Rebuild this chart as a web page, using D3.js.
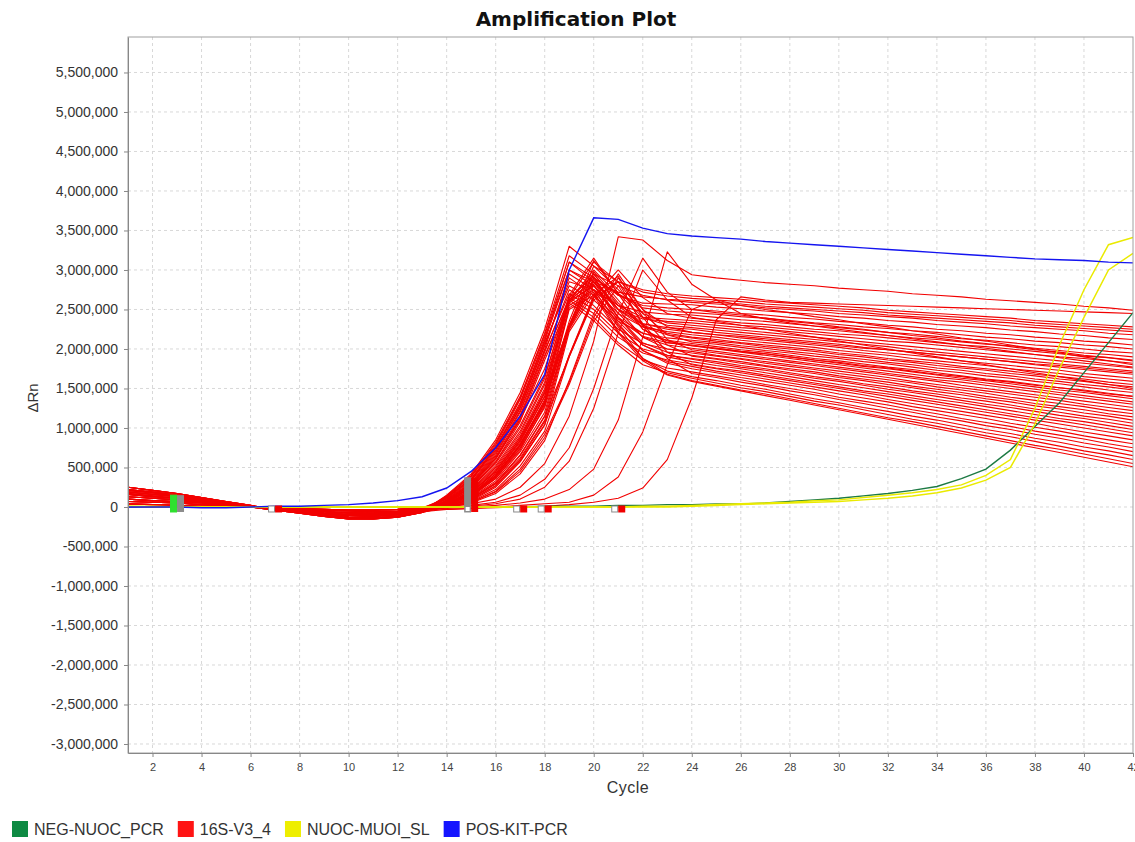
<!DOCTYPE html>
<html>
<head>
<meta charset="utf-8">
<script src="https://cdn.jsdelivr.net/npm/d3@7"></script>
<style>
body { margin: 0; background: #fff; }
svg { display: block; font-family: "Liberation Sans", Arial, sans-serif; }
</style>
</head>
<body>
<div id="chart"></div>
<script>
// ΔRn values are written in units of 10,000, one value per cycle (1..42)
const UNIT = 10000

const seriesNames = ['NEG-NUOC_PCR', '16S-V3_4', 'NUOC-MUOI_SL', 'POS-KIT-PCR']

// 16S-V3_4 wells
const red16S = [
  [25,21,17,12,7,2,-3,-7,-11,-13,-14,-12,-6, 15,42,85,145,225, 330,305,285,275,270, 267,265,263,260,258,256,254,252,249,247,245,243,241,239,236,234,232,230,228],
  [22,19,15,11,6,1,-3,-6,-9,-11,-12,-10,-5, 8,28,62,110,175, 265,310,285,272,267, 264,262,260,257,255,253,251,249,246,244,242,240,238,236,233,231,229,227,225],
  [19,16,13,9,5,1,-2,-5,-8,-10,-11,-9,-5, 12,36,76,132,210, 300,285,272,266,263, 261,259,257,254,252,250,248,246,243,241,239,237,235,233,230,228,226,224,222],
  [16,13,11,8,4,1,-2,-5,-8,-10,-10,-8,-4, 4,18,45,88,145, 230,295,280,268,262, 259,257,255,252,250,248,245,243,241,239,236,234,232,229,227,225,223,220,218],
  [13,11,9,6,3,0,-2,-4,-6,-8,-8,-7,-3, 7,25,57,103,166, 262,300,268,258,257, 256,253,251,248,246,244,241,239,236,234,231,229,227,224,222,219,217,214,212],
  [21,18,14,9,4,0,-4,-8,-12,-15,-15,-13,-7, 14,40,82,140,218, 310,290,268,255,252, 250,248,245,243,240,238,235,233,230,228,225,223,220,218,215,213,210,208,205],
  [10,8,7,5,2,0,-2,-4,-6,-7,-8,-6,-3, 3,15,40,80,134, 228,290,270,252,248, 246,244,241,239,236,233,231,228,226,223,221,218,215,213,210,208,205,203,200],
  [4,3,2,1,0,0,-1,-2,-3,-4,-4,-3,-1, 10,33,72,126,205, 285,275,255,247,244, 243,240,237,235,232,229,227,224,221,219,216,213,211,208,205,203,200,197,195],
  [7,6,5,3,1,0,-1,-3,-4,-5,-6,-5,-2, 1,10,30,65,115, 190,265,300,265,245, 239,236,233,231,228,225,223,220,217,214,212,209,206,204,201,198,195,193,190],
  [17,14,11,7,3,0,-3,-7,-10,-13,-14,-12,-6, 6,22,52,96,158, 262,295,255,240,238, 236,233,230,228,225,222,219,217,214,211,208,205,203,200,197,194,191,189,186],
  [25,21,17,12,7,2,-3,-7,-11,-13,-14,-12,-6, 13,38,78,136,215, 300,280,250,238,235, 233,230,227,225,222,219,216,213,210,208,205,202,199,196,193,190,188,185,182],
  [22,19,15,11,6,1,-3,-6,-9,-11,-12,-10,-5, 3,16,42,84,140, 230,305,275,245,233, 230,227,224,221,218,215,212,209,206,203,200,197,194,191,188,185,182,179,176],
  [19,16,13,9,5,1,-2,-5,-8,-10,-11,-9,-5, 7,24,55,100,163, 268,315,270,240,230, 227,224,221,218,215,212,209,206,203,199,196,193,190,187,184,181,178,175,172],
  [16,13,11,8,4,1,-2,-5,-8,-10,-10,-8,-4, 11,34,74,130,212, 310,285,250,232,227, 225,221,218,215,212,209,206,202,199,196,193,190,187,184,180,177,174,171,168],
  [13,11,9,6,3,0,-2,-4,-6,-8,-8,-7,-3, -1,6,20,48,92, 158,240,290,250,228, 221,218,214,211,208,205,202,198,195,192,189,185,182,179,176,173,169,166,163],
  [21,18,14,9,4,0,-4,-8,-12,-15,-15,-13,-7, 9,30,68,122,200, 295,275,245,228,222, 218,215,211,208,205,202,198,195,192,188,185,182,179,175,172,169,165,162,159],
  [10,8,7,5,2,0,-2,-4,-6,-7,-8,-6,-3, 2,13,36,74,126, 225,285,255,230,220, 215,212,208,205,202,199,195,192,188,185,182,178,175,172,168,165,162,158,155],
  [4,3,2,1,0,0,-1,-2,-3,-4,-4,-3,-1, 5,20,48,90,150, 260,290,250,228,218, 214,210,207,203,200,197,193,190,186,183,179,176,173,169,166,162,159,155,152],
  [7,6,5,3,1,0,-1,-3,-4,-5,-6,-5,-2, 12,35,75,128,208, 280,262,235,220,214, 211,208,204,201,197,194,190,187,183,180,176,173,169,166,162,159,155,152,148],
  [17,14,11,7,3,0,-3,-7,-10,-13,-14,-12,-6, 0,8,25,57,104, 192,265,285,245,218, 209,206,202,198,195,191,188,184,181,177,173,170,166,163,159,156,152,148,145],
  [25,21,17,12,7,2,-3,-7,-11,-13,-14,-12,-6, 6,21,50,93,155, 260,280,240,220,211, 207,203,199,196,192,188,185,181,177,174,170,166,162,159,155,151,148,144,140],
  [22,19,15,11,6,1,-3,-6,-9,-11,-12,-10,-5, 10,31,70,125,204, 290,268,238,216,208, 205,201,197,194,190,186,182,178,175,171,167,163,160,156,152,148,145,141,137],
  [19,16,13,9,5,1,-2,-5,-8,-10,-11,-9,-5, 3,14,38,77,130, 230,298,262,225,208, 204,200,196,192,188,184,180,176,172,168,164,161,157,153,149,145,141,137,133],
  [16,13,11,8,4,1,-2,-5,-8,-10,-10,-8,-4, 5,19,46,87,147, 265,292,245,215,205, 201,197,193,189,185,181,177,173,169,165,161,158,154,150,146,142,138,134,130],
  [13,11,9,6,3,0,-2,-4,-6,-8,-8,-7,-3, -1,5,17,42,84, 160,245,295,250,212, 199,195,191,187,183,179,175,171,167,163,159,154,150,146,142,138,134,130,126],
  [21,18,14,9,4,0,-4,-8,-12,-15,-15,-13,-7, 8,28,64,116,196, 275,255,225,207,200, 197,192,188,184,180,176,172,168,164,159,155,151,147,143,139,135,130,126,122],
  [10,8,7,5,2,0,-2,-4,-6,-7,-8,-6,-3, 2,12,33,70,120, 228,288,250,215,200, 195,191,187,182,178,174,169,165,161,157,152,148,144,139,135,131,127,122,118],
  [4,3,2,1,0,0,-1,-2,-3,-4,-4,-3,-1, 4,17,42,82,140, 262,285,240,208,196, 192,188,184,179,175,171,166,162,158,153,149,145,140,136,131,127,123,118,114],
  [7,6,5,3,1,0,-1,-3,-4,-5,-6,-5,-2, 1,9,27,60,108, 192,268,292,240,205, 191,187,182,178,173,169,164,160,155,151,146,142,137,133,128,124,119,115,110],
  [17,14,11,7,3,0,-3,-7,-10,-13,-14,-12,-6, 9,29,66,120,198, 270,250,220,200,192, 188,184,179,175,170,165,161,156,152,147,143,138,134,129,124,120,115,111,106],
  [25,21,17,12,7,2,-3,-7,-11,-13,-14,-12,-6, 5,18,44,85,144, 258,282,235,205,192, 187,182,177,173,168,163,159,154,149,145,140,135,130,126,121,116,112,107,102],
  [22,19,15,11,6,1,-3,-6,-9,-11,-12,-10,-5, 2,11,31,66,115, 228,280,240,205,190, 184,179,175,170,165,160,155,151,146,141,136,132,127,122,117,112,108,103,98],
  [19,16,13,9,5,1,-2,-5,-8,-10,-11,-9,-5, 7,26,60,112,190, 265,245,215,195,186, 181,176,172,167,162,157,152,147,143,138,133,128,123,118,113,109,104,99,94],
  [16,13,11,8,4,1,-2,-5,-8,-10,-10,-8,-4, 0,6,19,45,88, 155,235,280,232,196, 180,175,170,165,160,155,150,145,140,135,130,125,120,115,110,105,100,95,90],
  [13,11,9,6,3,0,-2,-4,-6,-8,-8,-7,-3, 4,16,40,78,136, 255,275,230,198,184, 178,172,167,162,157,152,147,142,136,131,126,121,116,111,106,100,95,90,85],
  [21,18,14,9,4,0,-4,-8,-12,-15,-15,-13,-7, 1,10,29,62,110, 225,275,232,198,182, 175,170,164,159,154,149,143,138,133,127,122,117,112,106,101,96,90,85,80],
  [10,8,7,5,2,0,-2,-4,-6,-7,-8,-6,-3, 8,27,62,114,192, 262,240,208,186,176, 171,166,161,155,150,145,139,134,129,123,118,112,107,102,96,91,86,80,75],
  [4,3,2,1,0,0,-1,-2,-3,-4,-4,-3,-1, 0,7,22,52,96, 190,262,285,230,188, 169,164,158,153,147,142,136,131,125,120,114,109,103,98,92,87,81,76,70],
  [7,6,5,3,1,0,-1,-3,-4,-5,-6,-5,-2, 3,15,38,75,132, 252,272,222,188,172, 165,160,154,149,143,137,132,126,121,115,110,104,98,93,87,82,76,71,65],
  [17,14,11,7,3,0,-3,-7,-10,-13,-14,-12,-6, 6,24,57,108,186, 258,236,205,180,170, 163,157,151,146,140,134,129,123,117,111,106,100,94,89,83,77,71,66,60],
  [25,21,17,12,7,2,-3,-7,-11,-13,-14,-12,-6, 1,9,27,58,104, 222,270,228,188,168, 160,154,148,143,137,131,125,119,113,108,102,96,90,84,78,73,67,61,55],
  [22,19,15,11,6,1,-3,-6,-9,-11,-12,-10,-5, 4,14,36,72,128, 250,268,220,185,167, 159,153,147,141,135,129,123,117,111,105,99,93,87,81,75,69,63,57,51],
  [19,16,13,9,5,1,-2,-5,-8,-10,-11,-9,-5, 14,39,80,138,220, 318,295,258,232,225, 221,218,216,213,210,207,204,201,199,196,193,190,187,184,181,179,176,173,170],
  [16,13,11,8,4,1,-2,-5,-8,-10,-10,-8,-4, 3,15,39,79,132, 235,312,270,225,210, 204,201,197,194,190,186,183,179,176,172,168,165,161,158,154,151,147,143,140],
  // later wells
  [13,11,9,6,3,0,-2,-4,-6,-8,-8,-7,-3, -1,2,6,15,35, 75,150,245,315,272, 250,246,243,239,235,232,228,225,221,217,214,210,207,203,199,196,192,189,185],
  [21,18,14,9,4,0,-4,-8,-12,-15,-15,-13,-7, 0,4,10,25,55, 115,210,342,338,312, 294,290,287,284,282,280,277,275,273,270,268,266,263,261,259,257,254,252,249],
  [10,8,7,5,2,0,-2,-4,-6,-7,-8,-6,-3, -2,0,2,5,10, 22,48,110,215,323, 282,262,255,250,246,241,237,232,228,223,219,214,210,205,200,195,190,185,180],
  [4,3,2,1,0,0,-1,-2,-3,-4,-4,-3,-1, -1,1,4,10,25, 58,125,220,300,262, 240,235,230,225,220,215,210,205,200,195,190,185,180,175,170,165,160,155,150],
  [7,6,5,3,1,0,-1,-3,-4,-5,-6,-5,-2, -3,-2,-1,0,1, 3,6,11,24,60, 138,237,266,262,259,258,257,256,255,254,253,252,251,250,249,248,247,246,245],
  [17,14,11,7,3,0,-3,-7,-10,-13,-14,-12,-6, -3,-2,0,2,4, 6,15,38,95,180, 250,262,245,238,233,229,225,221,217,213,209,205,201,197,193,189,185,181,177]
]

// POS-KIT-PCR
const posKit = [0,0,0,-1,-1,0,1,1,2,3,5,8,13,24,45,75,115,168,300,366,364,353,346,343,341,339,336,334,332,330,328,326,324,322,320,318,316,314,313,312,310,309]

// NUOC-MUOI_SL (two wells)
const nuocMuoi = [
  [1,1,0,0,0,0,0,0,0,0,0,0,0,0,0,0,0,0,0,0,0,1,1,2,3,4,5,6,8,9,12,15,18,22,28,40,60,125,205,275,332,341],
  [1,0,0,0,0,0,0,0,0,0,0,0,0,0,0,0,0,0,0,0,0,0,0,1,2,3,4,5,6,7,9,11,14,18,24,34,50,105,175,240,300,321]
]

// NEG-NUOC_PCR
const negNuoc = [0,0,0,0,0,0,0,0,0,0,0,0,0,0,0,0,0,1,1,1,2,2,3,3,4,4,5,7,9,11,14,17,21,26,36,48,72,102,132,170,208,246]

// baseline / threshold flags along the axis (cycle, top of flag in 10k)
const flagCycles = [3, 7, 15, 17, 18, 21]
const flagTops = [15, 1, 37, 1, 1, 1]

const yTicks = d3.range(-3000000, 5500001, 500000)
const xTicks = d3.range(2, 43, 2)

const W = 1135, H = 842
const mLeft = 128, mTop = 37, mRight = 1133, mBottom = 753

const colors = {
  'NEG-NUOC_PCR': '#1d7a44',
  '16S-V3_4': '#f20000',
  'NUOC-MUOI_SL': '#eaea00',
  'POS-KIT-PCR': '#1414f0'
}
const legendColors = ['#0e8a43', '#ff1414', '#eeee00', '#1414ff']

const svg = d3.select('#chart').append('svg')
  .attr('width', W)
  .attr('height', H)

const x = d3.scaleLinear().domain([1, 42]).range([mLeft, mRight])
const y = d3.scaleLinear().domain([-3114000, 5949000]).range([mBottom, mTop])

// grid
const grid = svg.append('g')
grid.selectAll('.vg')
  .data(xTicks.filter(d => d < 42))
  .enter().append('line')
  .attr('x1', d => x(d)).attr('x2', d => x(d))
  .attr('y1', mTop).attr('y2', mBottom)
  .attr('stroke', '#d8d8d8')
  .attr('stroke-dasharray', '3,3')
grid.selectAll('.hg')
  .data(yTicks)
  .enter().append('line')
  .attr('x1', mLeft).attr('x2', mRight)
  .attr('y1', d => y(d)).attr('y2', d => y(d))
  .attr('stroke', '#d8d8d8')
  .attr('stroke-dasharray', '3,3')

svg.append('clipPath').attr('id', 'plotclip')
  .append('rect')
  .attr('x', mLeft).attr('y', mTop)
  .attr('width', mRight - mLeft).attr('height', mBottom - mTop)

const plot = svg.append('g').attr('clip-path', 'url(#plotclip)')

const line = d3.line()
  .x((d, i) => x(i + 1))
  .y(d => y(d * UNIT))

plot.append('g')
  .selectAll('path')
  .data(red16S)
  .enter().append('path')
  .attr('d', line)
  .attr('fill', 'none')
  .attr('stroke', colors['16S-V3_4'])
  .attr('stroke-width', 1.1)
  .attr('stroke-linejoin', 'round')

plot.append('path')
  .attr('d', line(negNuoc))
  .attr('fill', 'none')
  .attr('stroke', colors['NEG-NUOC_PCR'])
  .attr('stroke-width', 1.4)

plot.append('g')
  .selectAll('path')
  .data(nuocMuoi)
  .enter().append('path')
  .attr('d', line)
  .attr('fill', 'none')
  .attr('stroke', colors['NUOC-MUOI_SL'])
  .attr('stroke-width', 1.5)

plot.append('path')
  .attr('d', line(posKit))
  .attr('fill', 'none')
  .attr('stroke', colors['POS-KIT-PCR'])
  .attr('stroke-width', 1.4)

// flags
const flags = plot.append('g')
const y0 = y(0)
flagCycles.forEach((c, i) => {
  const cx = x(c)
  const yt = Math.min(y(flagTops[i] * UNIT), y0 - 1)
  const yb = y0 + 5
  const tall = flagTops[i] > 5
  let leftFill = '#fff', leftStroke = '#8a8a8a'
  if (i === 0) { leftFill = '#2fe02f'; leftStroke = '#2fe02f' }
  if (i === 2) { leftFill = '#8c8c8c'; leftStroke = '#8c8c8c' }
  const rightFill = i === 0 ? '#8c8c8c' : '#f00000'
  flags.append('rect')
    .attr('x', cx - 6.5).attr('y', tall ? yt : yb - 6)
    .attr('width', 6).attr('height', tall ? yb - yt : 6)
    .attr('fill', leftFill)
    .attr('stroke', leftStroke)
    .attr('stroke-width', 1)
  if (i === 2) {
    flags.append('rect')
      .attr('x', cx - 5.5).attr('y', yb - 5)
      .attr('width', 4).attr('height', 4)
      .attr('fill', '#fff')
  }
  flags.append('rect')
    .attr('x', cx).attr('y', tall ? yt : yb - 6.5)
    .attr('width', 7).attr('height', tall ? yb - yt : 7)
    .attr('fill', rightFill)
})

// frame
svg.append('rect')
  .attr('x', mLeft).attr('y', mTop)
  .attr('width', mRight - mLeft).attr('height', mBottom - mTop)
  .attr('fill', 'none')
  .attr('stroke', '#a0a0a0')

// axes
const fmt = d3.format(',')
const yAxis = svg.append('g')
  .attr('transform', `translate(${mLeft},0)`)
  .call(d3.axisLeft(y).tickValues(yTicks).tickSize(4).tickSizeOuter(0).tickPadding(6)
    .tickFormat(d => fmt(d).replace('\u2212', '-')))
yAxis.select('.domain').attr('stroke', '#888')
yAxis.selectAll('.tick line').attr('stroke', '#888')
yAxis.selectAll('text')
  .attr('font-size', 14)
  .attr('font-family', '"Liberation Sans", Arial, sans-serif')
  .attr('fill', '#333')

const xAxis = svg.append('g')
  .attr('transform', `translate(0,${mBottom})`)
  .call(d3.axisBottom(x).tickValues(xTicks).tickSize(4).tickSizeOuter(0).tickPadding(6))
xAxis.select('.domain').attr('stroke', '#888')
xAxis.selectAll('.tick line').attr('stroke', '#888')
xAxis.selectAll('text')
  .attr('font-size', 11)
  .attr('font-family', '"Liberation Sans", Arial, sans-serif')
  .attr('fill', '#444')

// titles
svg.append('text')
  .attr('x', 576).attr('y', 26)
  .attr('text-anchor', 'middle')
  .attr('font-family', '"DejaVu Sans", sans-serif')
  .attr('font-weight', 'bold')
  .attr('font-size', 20)
  .attr('fill', '#111')
  .text('Amplification Plot')

svg.append('text')
  .attr('x', 628).attr('y', 793)
  .attr('text-anchor', 'middle')
  .attr('font-size', 16)
  .attr('fill', '#333')
  .attr('letter-spacing', 0.5)
  .text('Cycle')

svg.append('text')
  .attr('transform', 'translate(38,398) rotate(-90)')
  .attr('text-anchor', 'middle')
  .attr('font-size', 15)
  .attr('fill', '#333')
  .text('ΔRn')

// legend
const legend = svg.append('g')
let lx = 12
seriesNames.forEach((name, i) => {
  legend.append('rect')
    .attr('x', lx).attr('y', 821)
    .attr('width', 16).attr('height', 16)
    .attr('fill', legendColors[i])
  const t = legend.append('text')
    .attr('x', lx + 22).attr('y', 835)
    .attr('font-size', 16)
    .attr('fill', '#333')
    .text(name)
  lx = lx + 22 + t.node().getComputedTextLength() + 14
})
</script>
</body>
</html>
